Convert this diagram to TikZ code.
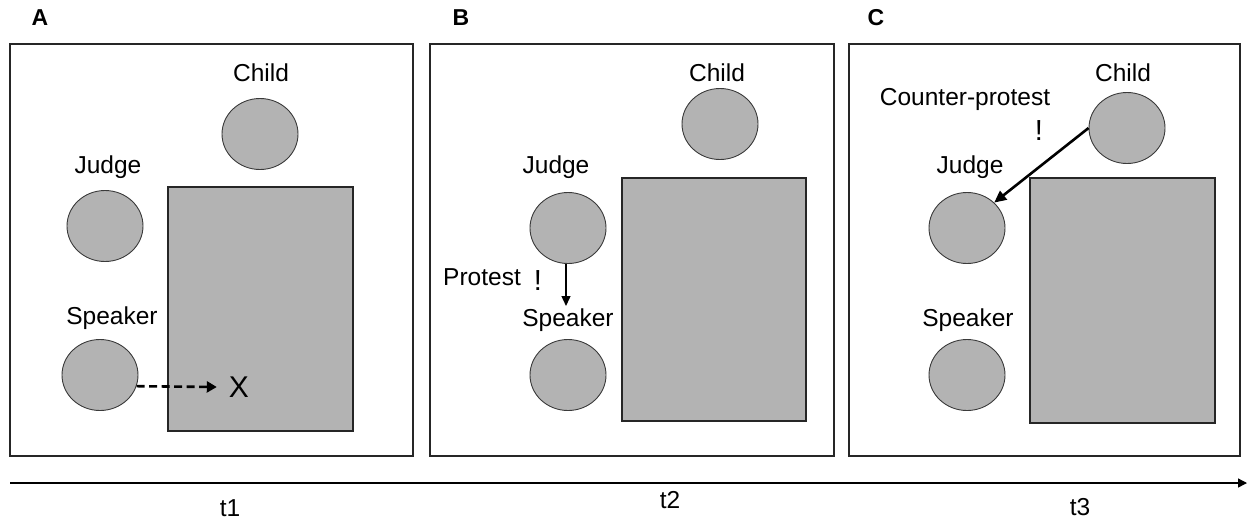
\documentclass[tikz,border=0pt]{standalone}
\usepackage{fontspec}
\setmainfont{Liberation Sans}
\usetikzlibrary{shapes.geometric,arrows.meta}
\definecolor{boxgray}{HTML}{B3B3B3}
\definecolor{edgegray}{HTML}{3A3A3A}
\begin{document}
\begin{tikzpicture}[x=1pt,y=-1pt,
  lbl/.style={font=\fontsize{24.5}{28}\selectfont, inner sep=0pt},
  bang/.style={font=\fontsize{29}{32}\selectfont, inner sep=0pt},
  head/.style={font=\fontsize{23}{27}\selectfont\bfseries, inner sep=0pt},
  person/.style={ellipse, draw=edgegray, line width=0.9pt, fill=boxgray, minimum width=76pt, minimum height=71pt, inner sep=0pt},
  frame/.style={draw=black!85, line width=1.2pt},
  table/.style={draw=black!85, line width=1.2pt, fill=boxgray},
  arr/.style={-{Triangle[length=10pt,width=9pt]}, line width=1.4pt}
]
\useasboundingbox (0,0) rectangle (1249,520);

% Headings
\node[head] (hA) at (40,18) {A};
\node[head] (hB) at (461,18) {B};
\node[head] (hC) at (876,18) {C};

% Frames
\draw[frame] (10,44) rectangle (413,456);
\draw[frame] (430,44) rectangle (834,456);
\draw[frame] (849,44) rectangle (1240,456);

% Panel A
\draw[table] (168,187) rectangle (353,431);
\node[lbl] (chlA) at (261,73) {Child};
\node[person] (chiA) at (260,134) {};
\node[lbl] (jlA) at (108,167) {Judge};
\node[person] (judA) at (105,226) {};
\node[lbl] (slA) at (112,318) {Speaker};
\node[person] (spkA) at (100,375) {};
\node[font=\fontsize{30}{34}\selectfont, inner sep=0pt] (xA) at (239,387) {X};
\draw[arr, line width=2.6pt, dash pattern=on 8pt off 4.5pt, -{Triangle[length=10pt,width=11pt]}] (spkA.-17) -- ([xshift=-12pt]xA.west);

% Panel B
\draw[table] (622,178) rectangle (806,421);
\node[lbl] (chlB) at (717,73) {Child};
\node[person] (chiB) at (720,124) {};
\node[lbl] (jlB) at (556,167) {Judge};
\node[person] (judB) at (568,228) {};
\node[lbl] (prB) at (482,277) {Protest};
\node[bang] (exB) at (538,281) {!};
\coordinate (tipB) at (566,306);
\draw[arr] (judB.south -| tipB) -- (tipB);
\node[lbl] (slB) at (568,320) {Speaker};
\node[person] (spkB) at (568,375) {};

% Panel C
\draw[table] (1030,178) rectangle (1215,423);
\node[lbl] (chlC) at (1123,73) {Child};
\node[person] (chiC) at (1127,128) {};
\node[lbl] (cpC) at (965,99) {Counter-protest};
\node[bang] (exC) at (1039,131) {!};
\node[lbl] (jlC) at (970,167) {Judge};
\node[person] (judC) at (967,228) {};
\node[lbl] (slC) at (968,320) {Speaker};
\node[person] (spkC) at (967,375) {};
\draw[arr, line width=2.6pt, -{Triangle[length=12pt,width=11pt]}] (chiC.west) -- (judC.north east);

% Time axis
\coordinate (tS) at (10,483);
\coordinate (tE) at (1247,483);
\draw[line width=1.3pt, -{Triangle[length=9pt,width=9pt]}] (tS) -- (tE);
\node[lbl] (t1) at (230,508) {t1};
\node[lbl] (t2) at (670,500) {t2};
\node[lbl] (t3) at (1080,507) {t3};
\end{tikzpicture}
\end{document}
